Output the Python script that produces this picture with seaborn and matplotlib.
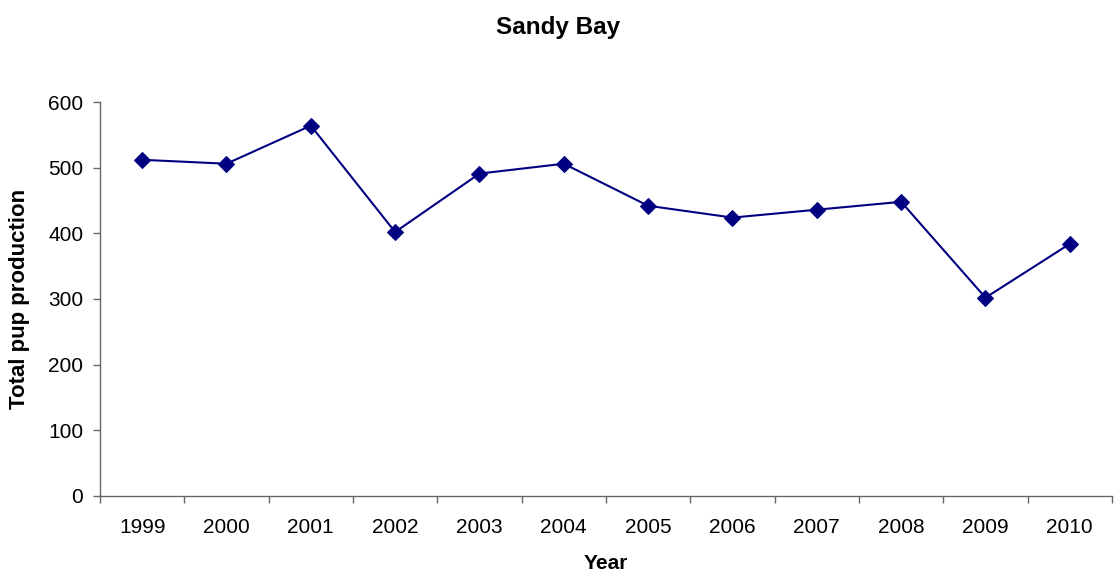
import matplotlib
matplotlib.use("Agg")
import matplotlib.pyplot as plt
import seaborn as sns
import numpy as np
import pandas as pd

years = ["1999", "2000", "2001", "2002", "2003", "2004", "2005", "2006", "2007", "2008", "2009", "2010"]
pups = [512, 506, 564, 402, 491, 506, 442, 424, 436, 448, 302, 384]
yticks = [0, 100, 200, 300, 400, 500, 600]

sns.set_theme(style="white")
plt.rcParams['font.family'] = ['Liberation Sans', 'DejaVu Sans']
plt.rcParams['text.color'] = 'black'
plt.rcParams['axes.labelcolor'] = 'black'
plt.rcParams['xtick.color'] = 'black'
plt.rcParams['ytick.color'] = 'black'

df = pd.DataFrame({"pos": np.arange(len(years)), "pups": pups})

fig = plt.figure(figsize=(11.17, 5.78), dpi=100)
ax = fig.add_axes([0.0895, 0.1419, 0.906, 0.6816])
sns.lineplot(data=df, x="pos", y="pups", ax=ax, color="#000080", linewidth=1.5,
             marker="D", markersize=8.5, markeredgecolor="#000080")

axis_col = "#666666"
ax.set_xlim(-0.5, len(years) - 0.5)
ax.set_ylim(0, 600)
ax.set_yticks(yticks)
ax.set_yticklabels([str(v) for v in yticks], fontsize=15)
ax.set_xticks(np.arange(len(years)))
ax.set_xticklabels(years, fontsize=15)
ax.set_xticks(np.arange(len(years) + 1) - 0.5, minor=True)
ax.tick_params(axis="x", which="major", length=0, pad=16, labelcolor="black")
ax.tick_params(axis="x", which="minor", length=5, width=1, color=axis_col, direction="out", bottom=True)
ax.tick_params(axis="y", which="major", length=5, width=1, color=axis_col, direction="out", left=True,
               pad=7, labelcolor="black")

for s in ["top", "right"]:
    ax.spines[s].set_visible(False)
for s in ["left", "bottom"]:
    ax.spines[s].set_color(axis_col)
    ax.spines[s].set_linewidth(1)

ax.set_xlabel("Year", fontsize=15, fontweight="bold", color="black", va="center")
ax.xaxis.set_label_coords(0.5, -0.172)
ax.set_ylabel("Total pup production", fontsize=16, fontweight="bold", color="black")
ax.yaxis.set_label_coords(-0.069, 0.5)
fig.text(0.5, 0.953, "Sandy Bay", fontsize=17.5, fontweight="bold", color="black",
         ha="center", va="center")

fig.savefig("out.png", dpi=100)
